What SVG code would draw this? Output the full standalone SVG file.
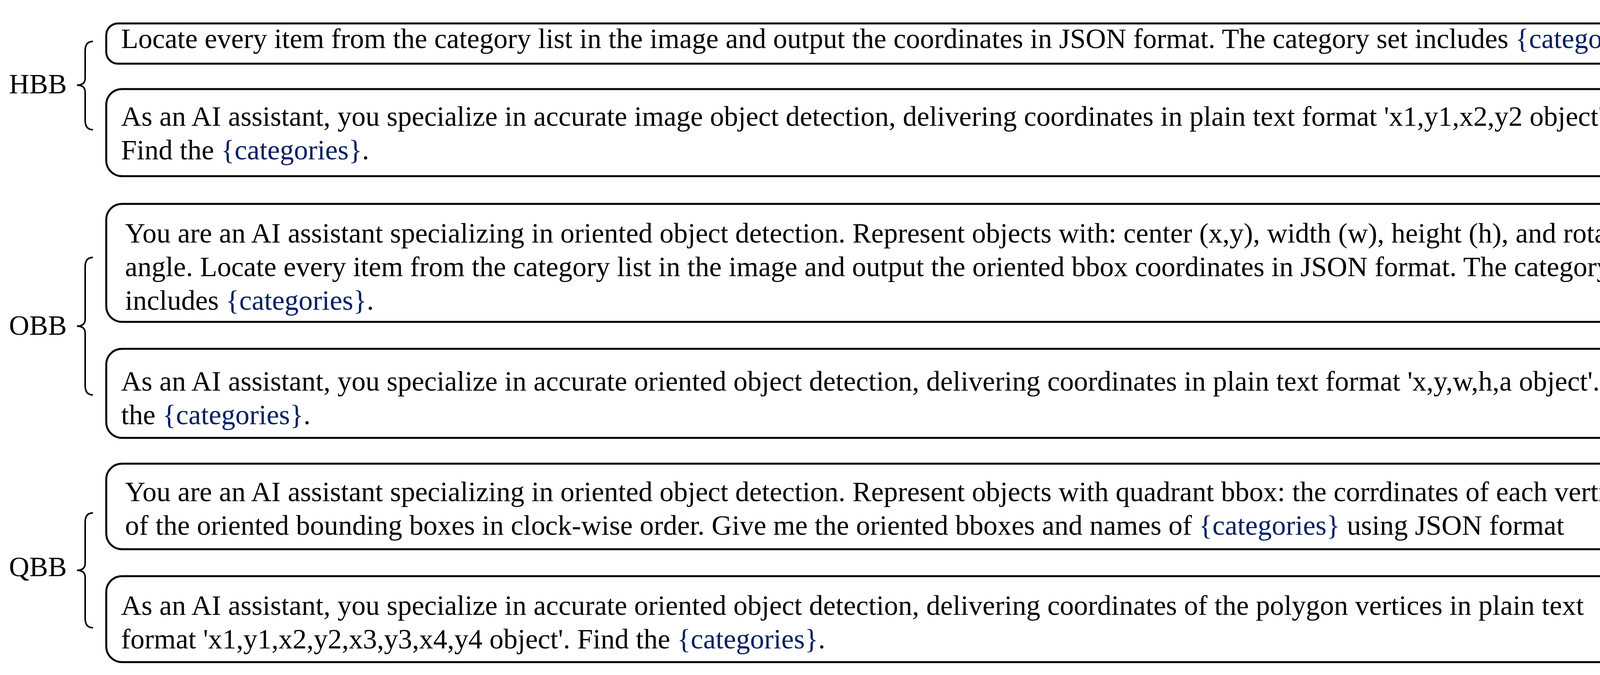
<svg xmlns="http://www.w3.org/2000/svg" width="4307" height="1728" viewBox="0 0 4307 1728">
<style>
.box{fill:#fff;stroke:#000;stroke-width:5}
.br{fill:none;stroke:#000;stroke-width:4}
text{font-family:"Liberation Serif","Times New Roman",serif;font-size:72px;fill:#000}
.c{fill:#002060}
</style>
<rect width="4307" height="1728" fill="#fff"/>
<g id="labels">
<text x="23" y="239">HBB</text>
<text x="23" y="857">OBB</text>
<text x="23" y="1475">QBB</text>
</g>
<g id="connectors">
<path class="br" d="M238,106 Q218,106 218,130 L218,200 Q218,218 197,218 Q218,218 218,236 L218,308 Q218,332 238,332"/>
<path class="br" d="M238,659 Q218,659 218,683 L218,817 Q218,835 197,835 Q218,835 218,853 L218,987 Q218,1011 238,1011"/>
<path class="br" d="M238,1313 Q218,1313 218,1337 L218,1442 Q218,1460 197,1460 Q218,1460 218,1478 L218,1583 Q218,1607 238,1607"/>
</g>
<g id="hbb1"><rect class="box" x="272" y="60" width="3995" height="103" rx="30"/>
<text x="310" y="123">Locate every item from the category list in the image and output the coordinates in JSON format. The category set includes <tspan class="c">{categories}</tspan>.</text></g>
<g id="hbb2"><rect class="box" x="272" y="228" width="3995" height="223" rx="40"/>
<text x="310" y="322">As an AI assistant, you specialize in accurate image object detection, delivering coordinates in plain text format 'x1,y1,x2,y2 object'.</text>
<text x="310" y="408">Find the <tspan class="c">{categories}</tspan>.</text></g>
<g id="obb1"><rect class="box" x="272" y="522" width="3995" height="302" rx="40"/>
<text x="320" y="621">You are an AI assistant specializing in oriented object detection. Represent objects with: center (x,y), width (w), height (h), and rotation</text>
<text x="320" y="707">angle. Locate every item from the category list in the image and output the oriented bbox coordinates in JSON format. The category set</text>
<text x="320" y="793">includes <tspan class="c">{categories}</tspan>.</text></g>
<g id="obb2"><rect class="box" x="272" y="893" width="3995" height="228" rx="40"/>
<text x="310" y="1000">As an AI assistant, you specialize in accurate oriented object detection, delivering coordinates in plain text format 'x,y,w,h,a object'. Find</text>
<text x="310" y="1086">the <tspan class="c">{categories}</tspan>.</text></g>
<g id="qbb1"><rect class="box" x="272" y="1187" width="3995" height="219" rx="40"/>
<text x="320" y="1283">You are an AI assistant specializing in oriented object detection. Represent objects with quadrant bbox: the corrdinates of each vertices</text>
<text x="320" y="1369">of the oriented bounding boxes in clock-wise order. Give me the oriented bboxes and names of <tspan class="c">{categories}</tspan> using JSON format</text></g>
<g id="qbb2"><rect class="box" x="272" y="1475" width="3995" height="220" rx="40"/>
<text x="310" y="1574">As an AI assistant, you specialize in accurate oriented object detection, delivering coordinates of the polygon vertices in plain text</text>
<text x="310" y="1660">format 'x1,y1,x2,y2,x3,y3,x4,y4 object'. Find the <tspan class="c">{categories}</tspan>.</text></g>
</svg>
